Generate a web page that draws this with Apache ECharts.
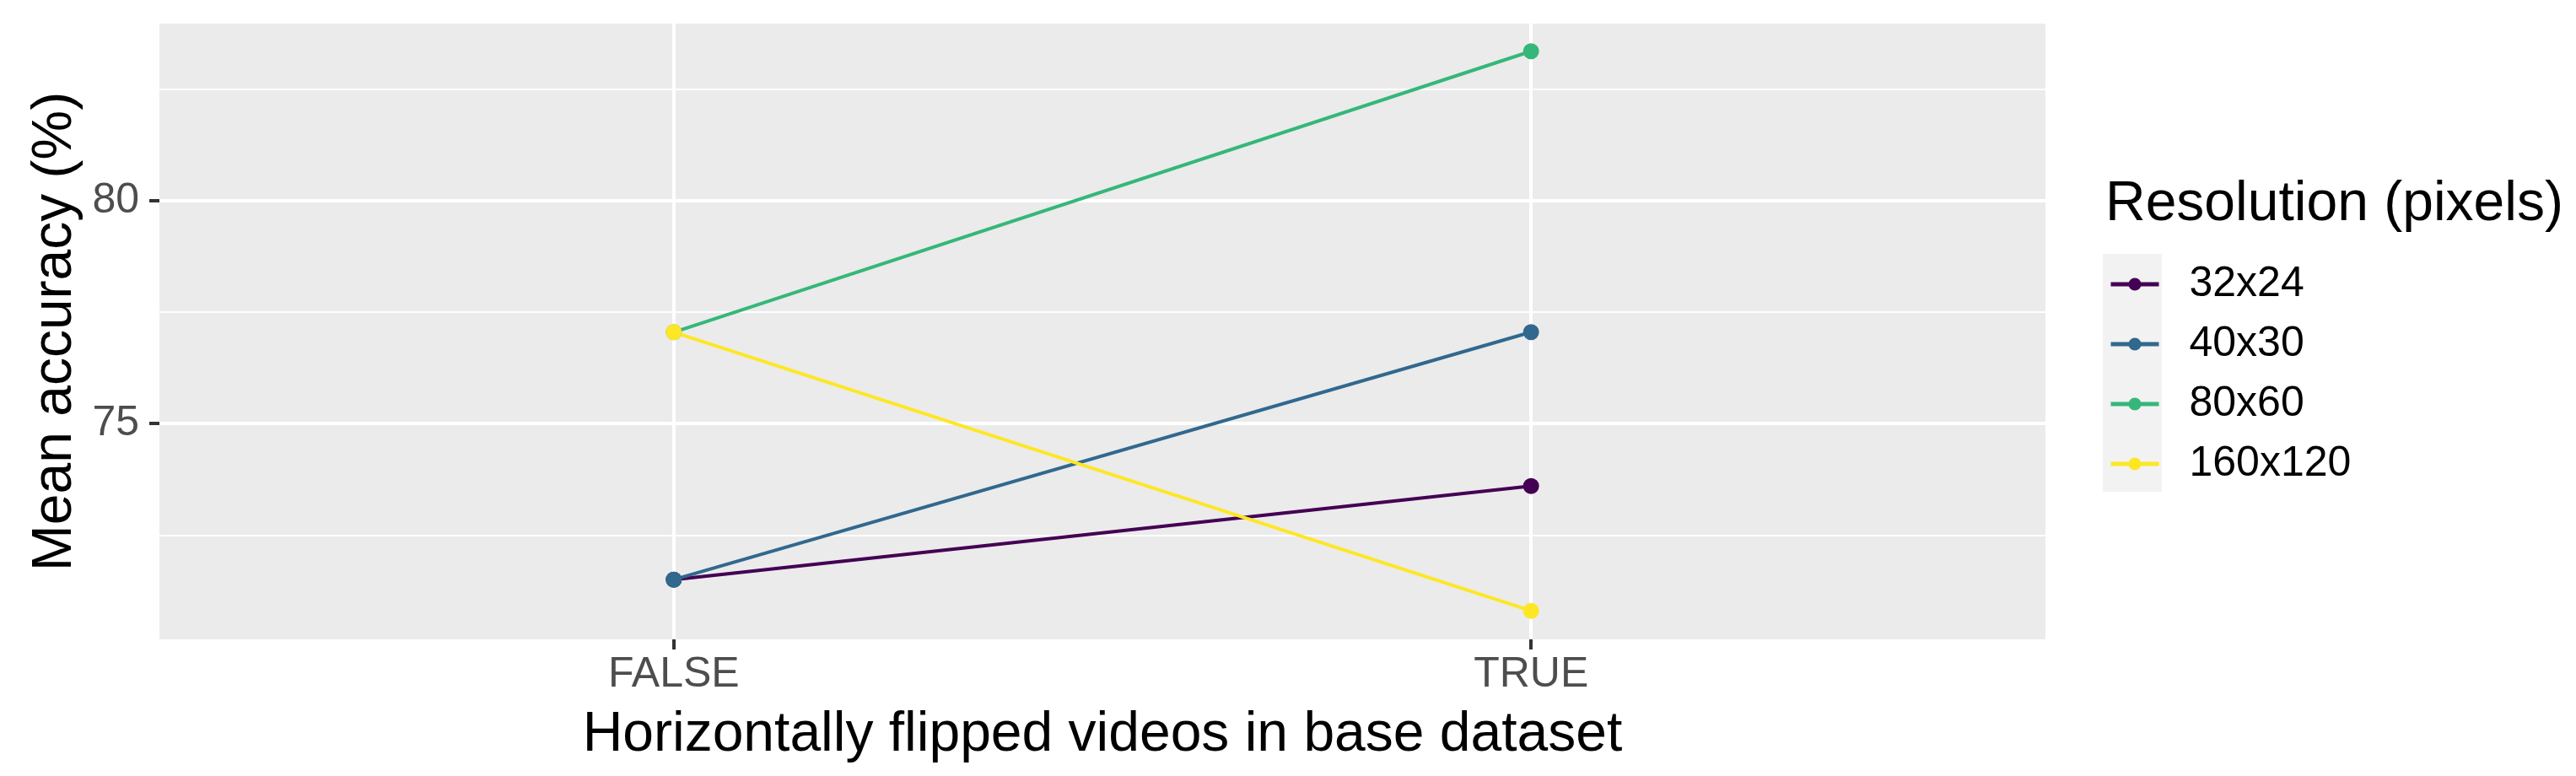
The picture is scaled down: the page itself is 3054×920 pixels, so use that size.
<!DOCTYPE html>
<html>
<head>
<meta charset="utf-8">
<script src="https://cdn.jsdelivr.net/npm/echarts@6/dist/echarts.min.js"></script>
<style>
  html, body { margin: 0; padding: 0; background: #ffffff; }
  #chart { width: 3054px; height: 920px; }
</style>
</head>
<body>
<div id="chart"></div>
<script>
// x categories (discrete axis, placed at 1 and 2)
var flipped = ['FALSE', 'TRUE'];
// series names
var resolutions = ['32x24', '40x30', '80x60', '160x120'];
// mean accuracy (%) per resolution, in the order of flipped
var acc32x24 = [71.5, 73.6];
var acc40x30 = [71.5, 77.05];
var acc80x60 = [77.05, 83.35];
var acc160x120 = [77.05, 70.8];
// y tick labels and minor grid
var yTicks = [75, 80];
var yMinor = [72.5, 77.5, 82.5];

var colors = ['#440154', '#31688E', '#35B779', '#FDE725'];
var allAcc = [acc32x24, acc40x30, acc80x60, acc160x120];

var chart = echarts.init(document.getElementById('chart'));

function toPoints(arr) {
    return arr.map(function (v, i) { return [i + 1, v]; });
}

var series = resolutions.map(function (name, k) {
    return {
        name: name,
        type: 'line',
        data: toPoints(allAcc[k]),
        symbol: 'circle',
        symbolSize: 19,
        lineStyle: { width: 4, color: colors[k] },
        itemStyle: { color: colors[k] },
        emphasis: { disabled: true }
    };
});

var tickStyle = { color: '#333333', width: 4 };

var option = {
    animation: false,
    backgroundColor: '#ffffff',
    textStyle: { fontFamily: 'Liberation Sans' },
    color: colors,
    grid: {
        left: 189,
        top: 28,
        width: 2236,
        height: 730,
        show: true,
        backgroundColor: '#EBEBEB',
        borderWidth: 0
    },
    title: {
        text: 'Resolution (pixels)',
        left: 2496,
        top: 210,
        padding: 0,
        textStyle: { fontSize: 66, fontWeight: 'normal', color: '#000000', fontFamily: 'Liberation Sans' }
    },
    graphic: [{
        type: 'rect',
        shape: { x: 2493, y: 301, width: 70, height: 282 },
        style: { fill: '#F2F2F2' },
        z: 0
    }],
    legend: {
        data: resolutions,
        orient: 'vertical',
        left: 2500,
        top: 312,
        padding: 0,
        itemWidth: 57,
        itemHeight: 19,
        itemGap: 21,
        lineStyle: { width: 5 },
        textStyle: { fontSize: 50, color: '#000000', padding: [0, 0, 0, 31], lineHeight: 50, fontFamily: 'Liberation Sans' }
    },
    xAxis: {
        type: 'value',
        min: 0.4,
        max: 2.6,
        name: 'Horizontally flipped videos in base dataset',
        nameLocation: 'middle',
        nameGap: 81,
        nameTextStyle: { fontSize: 66, color: '#000000', fontFamily: 'Liberation Sans' },
        axisLine: { show: false },
        axisTick: { show: true, length: 12, customValues: [1, 2], lineStyle: tickStyle },
        axisLabel: {
            customValues: [1, 2],
            fontSize: 50,
            color: '#4D4D4D',
            margin: 17,
            formatter: function (v) { return flipped[Math.round(v) - 1] || ''; }
        },
        splitLine: { show: true, lineStyle: { color: '#ffffff', width: 4 } }
    },
    yAxis: [{
        type: 'value',
        min: 70.16,
        max: 83.97,
        name: 'Mean accuracy (%)',
        nameLocation: 'middle',
        nameRotate: 90,
        nameGap: 90,
        nameTextStyle: { fontSize: 66, color: '#000000', fontFamily: 'Liberation Sans' },
        axisLine: { show: false },
        axisTick: { show: true, length: 12, customValues: yTicks, lineStyle: tickStyle },
        axisLabel: { customValues: yTicks, fontSize: 50, color: '#4D4D4D', margin: 24 },
        splitLine: { show: true, lineStyle: { color: '#ffffff', width: 4 } }
    }, {
        type: 'value',
        position: 'left',
        min: 70.16,
        max: 83.97,
        axisLine: { show: false },
        axisTick: { show: false, customValues: yMinor },
        axisLabel: { show: false, customValues: yMinor },
        splitLine: { show: true, lineStyle: { color: '#ffffff', width: 2 } }
    }],
    series: series
};

chart.setOption(option);
</script>
</body>
</html>
